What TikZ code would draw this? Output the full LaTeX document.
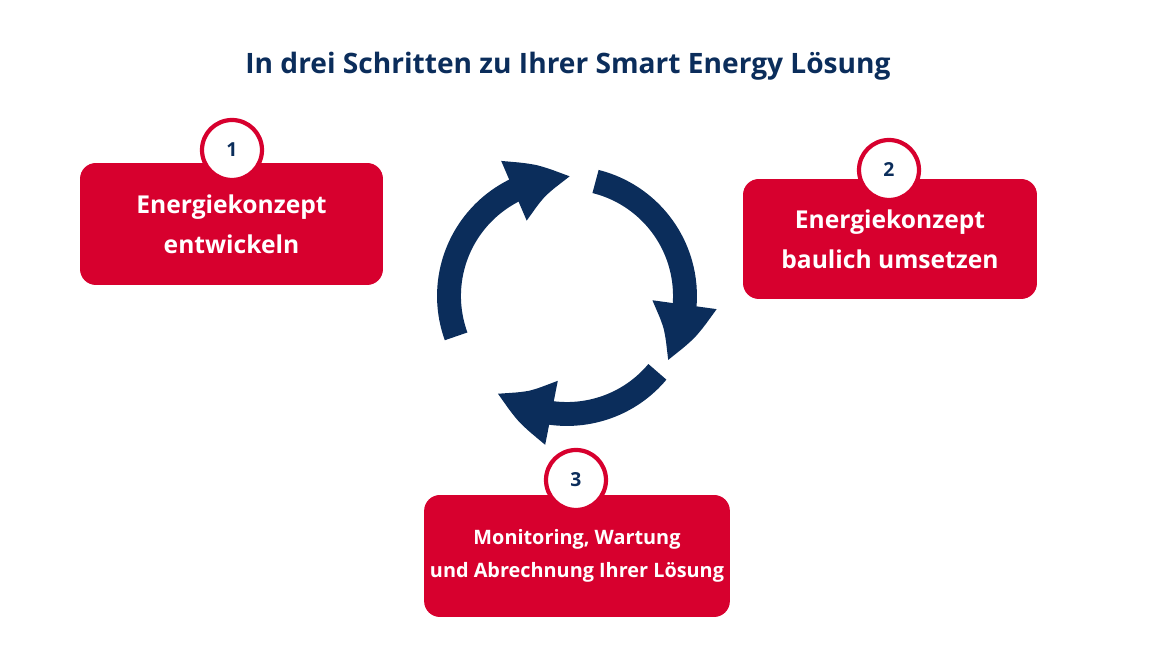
\documentclass[tikz,border=0pt]{standalone}
\usepackage{fontspec}
\setmainfont{Open Sans}
\usetikzlibrary{arrows.meta,bending}
\definecolor{navy}{HTML}{0B2D5B}
\definecolor{stepred}{HTML}{D7002E}
\tikzset{
	cyclepicture/.style = {
		x = 0.02cm,
		y = 0.02cm,
		font = \bfseries,
		cyclearrow/.style = {
			draw = navy,
			line width = 13.6pt,
			-{Triangle[bend, width = 34pt, length = 34pt]},
		}
	},
	stepbox/.style = {
		rectangle,
		rounded corners = 9pt,
		fill = stepred,
		text = white,
		align = center,
		font = \bfseries\fontsize{14}{23}\selectfont,
		minimum height = 2.44cm
	},
	stepnum/.style = {
		circle,
		draw = stepred,
		line width = 2.4pt,
		fill = white,
		text = navy,
		minimum size = 1.2cm,
		font = \bfseries\fontsize{11}{13}\selectfont
	}
}
\begin{document}
\begin{tikzpicture}[cyclepicture]
	\useasboundingbox (0,0) rectangle (1164,655);
	\node[text = navy, font = \bfseries\fontsize{16}{18}\selectfont] (title) at (568,589) {In drei Schritten zu Ihrer Smart Energy Lösung};

	\node[stepbox, minimum width = 6.06cm] (S1) at (231.5,431) {Energiekonzept\\entwickeln};
	\node[stepnum] (N1) at (232,505) {1};

	\node[stepbox, minimum width = 5.88cm, minimum height = 2.4cm] (S2) at (890,416) {Energiekonzept\\baulich umsetzen};
	\node[stepnum] (N2) at (889,485) {2};

	\node[stepbox, minimum width = 6.04cm, font = \bfseries\fontsize{11.3}{19}\selectfont] (S3) at (577,99) {Monitoring, Wartung\\und Abrechnung Ihrer Lösung};
	\node[stepnum] (N3) at (576,175) {3};

	\coordinate (C) at (567,359);
	\begin{scope}[every path/.style = cyclearrow]
		\path ([shift = {(200:118)}]C) arc[start angle = 200, end angle = 88, radius = 118];
		\path ([shift = {(76:118)}]C) arc[start angle = 76, end angle = -33, radius = 118];
		\path ([shift = {(-40:118)}]C) arc[start angle = -40, end angle = -126, radius = 118];
	\end{scope}
\end{tikzpicture}
\end{document}
